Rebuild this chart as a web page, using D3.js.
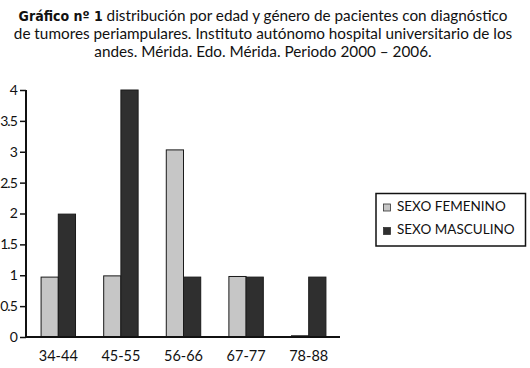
<!DOCTYPE html>
<html><head><meta charset="utf-8">
<script src="https://cdn.jsdelivr.net/npm/d3@7"></script>
<style>body{margin:0;background:#fff}svg{display:block}</style>
</head><body>
<svg id="c" width="530" height="368"></svg>
<script>
const categories = ["34-44","45-55","56-66","67-77","78-88"];
const seriesNames = ["SEXO FEMENINO","SEXO MASCULINO"];
const femenino = [0.97, 0.99, 3.03, 0.98, 0.02];
const masculino = [1.99, 4.0, 0.97, 0.97, 0.97];
const yTicks = [0,0.5,1,1.5,2,2.5,3,3.5,4];
const titleLines = [
  ["Gráfico nº 1", " distribución por edad y género de pacientes con diagnóstico"],
  ["", "de tumores periampulares. Instituto autónomo hospital universitario de los"],
  ["", "andes. Mérida. Edo. Mérida. Periodo 2000 – 2006."]
];
const colors = ["#c6c6c6","#2f2f2f"];

const svg = d3.select("#c");
const font = "Lato, 'Open Sans', sans-serif";

// title
const ty = [17, 35, 53];
titleLines.forEach((ln, i) => {
  const t = svg.append("text").attr("x", 263).attr("y", ty[i]).attr("text-anchor","middle")
    .attr("dominant-baseline","middle").attr("font-family", font).attr("font-size", 15.3).attr("fill","#111");
  if (ln[0]) t.append("tspan").attr("font-weight","bold").attr("font-family","'Liberation Sans Narrow','DejaVu Sans Condensed',sans-serif").attr("font-size",14).text(ln[0]);
  t.append("tspan").text(ln[1]);
});

const x0 = d3.scaleBand().domain(categories).range([27, 340]).paddingInner(0.45).paddingOuter(0.225);
const x1 = d3.scaleBand().domain(seriesNames).range([0, x0.bandwidth()]);
const y = d3.scaleLinear().domain([0,4]).range([337, 90]);

const data = categories.map((c,i) => ({cat:c, vals:[femenino[i], masculino[i]]}));
const g = svg.append("g");
data.forEach(d => {
  d.vals.forEach((v,j) => {
    g.append("rect").attr("x", x0(d.cat)+x1(seriesNames[j])).attr("y", y(v))
      .attr("width", x1.bandwidth()).attr("height", y(0)-y(v))
      .attr("fill", colors[j]).attr("stroke","#1a1a1a").attr("stroke-width",1);
  });
});

// y axis
const ya = svg.append("g").attr("transform","translate(26,0)")
  .call(d3.axisLeft(y).tickValues(yTicks).tickSize(6).tickPadding(3).tickFormat(d3.format("")));
ya.select(".domain").attr("stroke","#111").attr("stroke-width",2).attr("d","M0,"+y(4)+"V"+y(0));
ya.selectAll(".tick line").attr("stroke","#111").attr("stroke-width",1.5);
ya.selectAll("text").attr("font-family", font).attr("font-size",14).attr("letter-spacing","-0.9").attr("fill","#111");

// x axis
const xa = svg.append("g").attr("transform","translate(0,337)")
  .call(d3.axisBottom(x0).tickSize(0).tickPadding(14));
xa.select(".domain").attr("stroke","#111").attr("stroke-width",2).attr("d","M25,0H340");
xa.selectAll("text").attr("font-family", font).attr("font-size",14.5).attr("fill","#111");

// legend
const lg = svg.append("g");
lg.append("rect").attr("x",376).attr("y",193.5).attr("width",149.5).attr("height",52.5)
  .attr("fill","#fff").attr("stroke","#111").attr("stroke-width",1.5);
seriesNames.forEach((s,i) => {
  const yy = 207.5 + i*23.5;
  lg.append("rect").attr("x",383.5).attr("y",yy-3.5).attr("width",7).attr("height",7)
    .attr("fill",colors[i]).attr("stroke","#333").attr("stroke-width",0.8);
  lg.append("text").attr("x",397).attr("y",yy).attr("dominant-baseline","middle")
    .attr("font-family",font).attr("font-size",13.5).attr("fill","#111").text(s);
});
</script>
</body></html>
